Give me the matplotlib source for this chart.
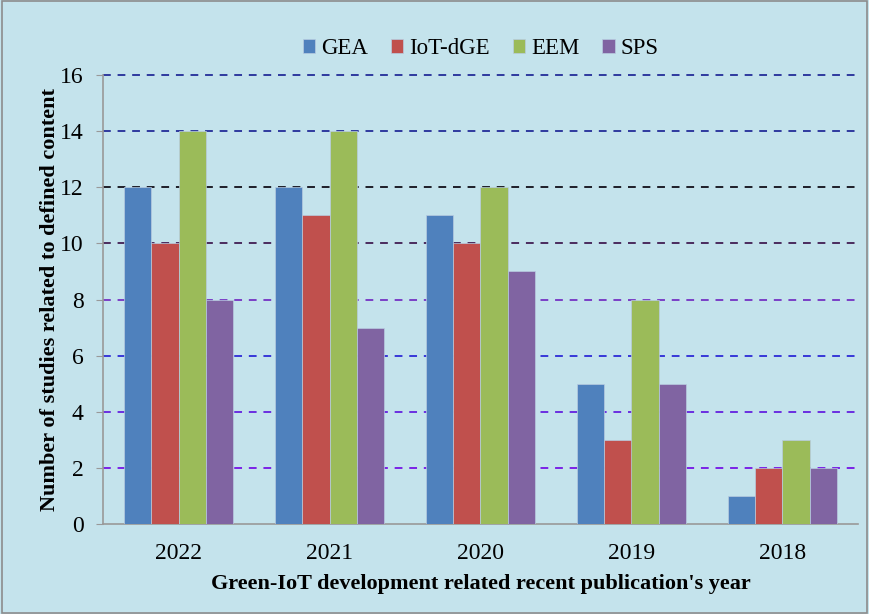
import numpy as np
import matplotlib.pyplot as plt

# datos
years = ['2022', '2021', '2020', '2019', '2018']
gea = [12, 12, 11, 5, 1]
iot_dge = [10, 11, 10, 3, 2]
eem = [14, 14, 12, 8, 3]
sps = [8, 7, 9, 5, 2]

series = [('GEA', gea, '#4F81BD'), ('IoT-dGE', iot_dge, '#C0504D'),
          ('EEM', eem, '#9BBB59'), ('SPS', sps, '#8064A2')]

# colores de las lineas de la cuadricula (de 2 a 16)
grid_levels = [2, 4, 6, 8, 10, 12, 14, 16]
grid_colors = ['#7A22E6', '#6A2FE0', '#3838D8', '#7A3FC6', '#4A2C5E', '#1E1E28', '#2E3A9E', '#2E3A9E']

plt.rcParams['font.family'] = ['Liberation Serif', 'DejaVu Serif']
bg = '#C4E3EC'

fig = plt.figure(figsize=(8.69, 6.14), dpi=100, facecolor=bg)
ax = fig.add_axes([103 / 869, 1 - 524 / 614, 755 / 869, 449 / 614])
ax.set_facecolor(bg)

x = np.arange(len(years))
ancho = 0.18
for i, (nombre, valores, color) in enumerate(series):
    ax.bar(x + (i - 1.5) * ancho, valores, ancho, color=color, label=nombre,
           edgecolor='#B8CCE0', linewidth=0.5, zorder=3)

for nivel, c in zip(grid_levels, grid_colors):
    ax.axhline(nivel, color=c, linestyle=(0, (4, 3.5)), linewidth=1.4, zorder=1, clip_on=False)

ax.set_xlim(-0.5, len(years) - 0.5)
ax.set_ylim(0, 16)
ax.set_yticks(range(0, 17, 2))
ax.set_xticks(x)
ax.set_xticklabels(years)
ax.tick_params(axis='y', direction='out', length=5, color='#999999', labelsize=17, pad=9)
ax.tick_params(axis='x', length=0, labelsize=17, pad=14)

for lado in ['top', 'right']:
    ax.spines[lado].set_visible(False)
for lado in ['left', 'bottom']:
    ax.spines[lado].set_color('#999999')
    ax.spines[lado].set_linewidth(1.2)

ax.set_xlabel("Green-IoT development related recent publication's year", fontsize=16,
              fontweight='bold', labelpad=7)
ax.set_ylabel('Number of studies related to defined content', fontsize=16,
              fontweight='bold', labelpad=0)

ax.legend(loc='lower center', bbox_to_anchor=(0.5, 1.0), ncol=4, frameon=False,
          fontsize=16.5, handlelength=0.55, handleheight=0.55, handletextpad=0.25,
          columnspacing=1.0, borderaxespad=0.3)

# borde gris de la figura
fig.patches.append(plt.Rectangle((0.002, 0.002), 0.996, 0.996, transform=fig.transFigure,
                                 fill=False, edgecolor='#8C8C8C', linewidth=1.2))

fig.savefig('out.png', dpi=100, facecolor=bg)
